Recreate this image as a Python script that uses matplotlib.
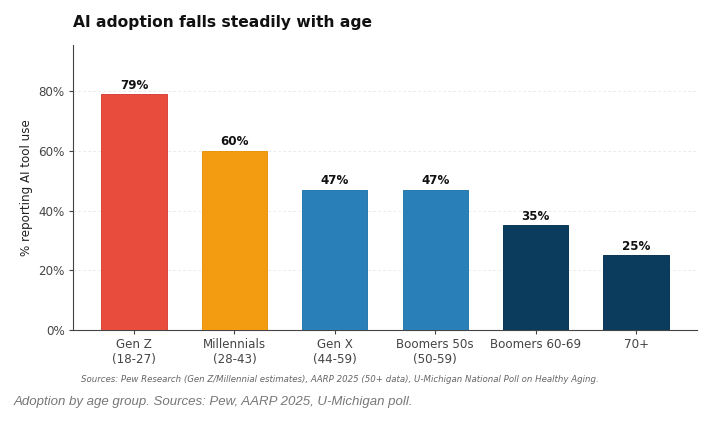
import matplotlib
matplotlib.use("Agg")
import matplotlib.pyplot as plt

categories = ["Gen Z\n(18-27)", "Millennials\n(28-43)", "Gen X\n(44-59)", "Boomers 50s\n(50-59)", "Boomers 60-69", "70+"]
values = [79, 60, 47, 47, 35, 25]
colors = ["#E74C3C", "#F39C12", "#2980B9", "#2980B9", "#0B3C5D", "#0B3C5D"]
edges = ["#D9443A", "#E8940F", "#2678AE", "#2678AE", "#0A3656", "#0A3656"]
yticks = [0, 20, 40, 60, 80]

fig = plt.figure(figsize=(7.2, 4.21), dpi=100)
ax = fig.add_axes([73/720, 1-330/421, 624/720, 285/421])
x = list(range(len(categories)))
bars = ax.bar(x, values, width=0.65, color=colors, edgecolor=edges, linewidth=0.7, zorder=3)
for xi, v in zip(x, values):
    ax.text(xi, v + 0.8, f"{v}%", ha="center", va="bottom", fontsize=8.6, fontweight="bold", color="#111111")
ax.set_ylim(0, 95.4)
ax.set_yticks(yticks)
ax.set_yticklabels([f"{t}%" for t in yticks], fontsize=8.6, color="#333333")
ax.set_xticks(x)
ax.set_xticklabels(categories, fontsize=8.6, color="#333333")
ax.set_ylabel("% reporting AI tool use", fontsize=8.6, color="#222222", labelpad=4)
ax.yaxis.grid(True, linestyle=(0, (3, 3)), color="#e6e6e6", linewidth=0.6, zorder=0)
ax.set_axisbelow(True)
for s in ["top", "right"]:
    ax.spines[s].set_visible(False)
for s in ["left", "bottom"]:
    ax.spines[s].set_color("#444444")
    ax.spines[s].set_linewidth(0.8)
ax.tick_params(colors="#444444", length=3, pad=3)

fig.text(73/720, 1-22/421, "AI adoption falls steadily with age", fontsize=11.2, fontweight="bold", ha="left", va="center", color="#111111")
fig.text(340/720, 1-380/421, "Sources: Pew Research (Gen Z/Millennial estimates), AARP 2025 (50+ data), U-Michigan National Poll on Healthy Aging.",
         fontsize=6.2, style="italic", color="#666666", ha="center", va="center")
fig.text(14/720, 1-402/421, "Adoption by age group. Sources: Pew, AARP 2025, U-Michigan poll.",
         fontsize=9.5, style="italic", color="#777777", ha="left", va="center", family="Liberation Sans")
fig.savefig("out.png", dpi=100)
